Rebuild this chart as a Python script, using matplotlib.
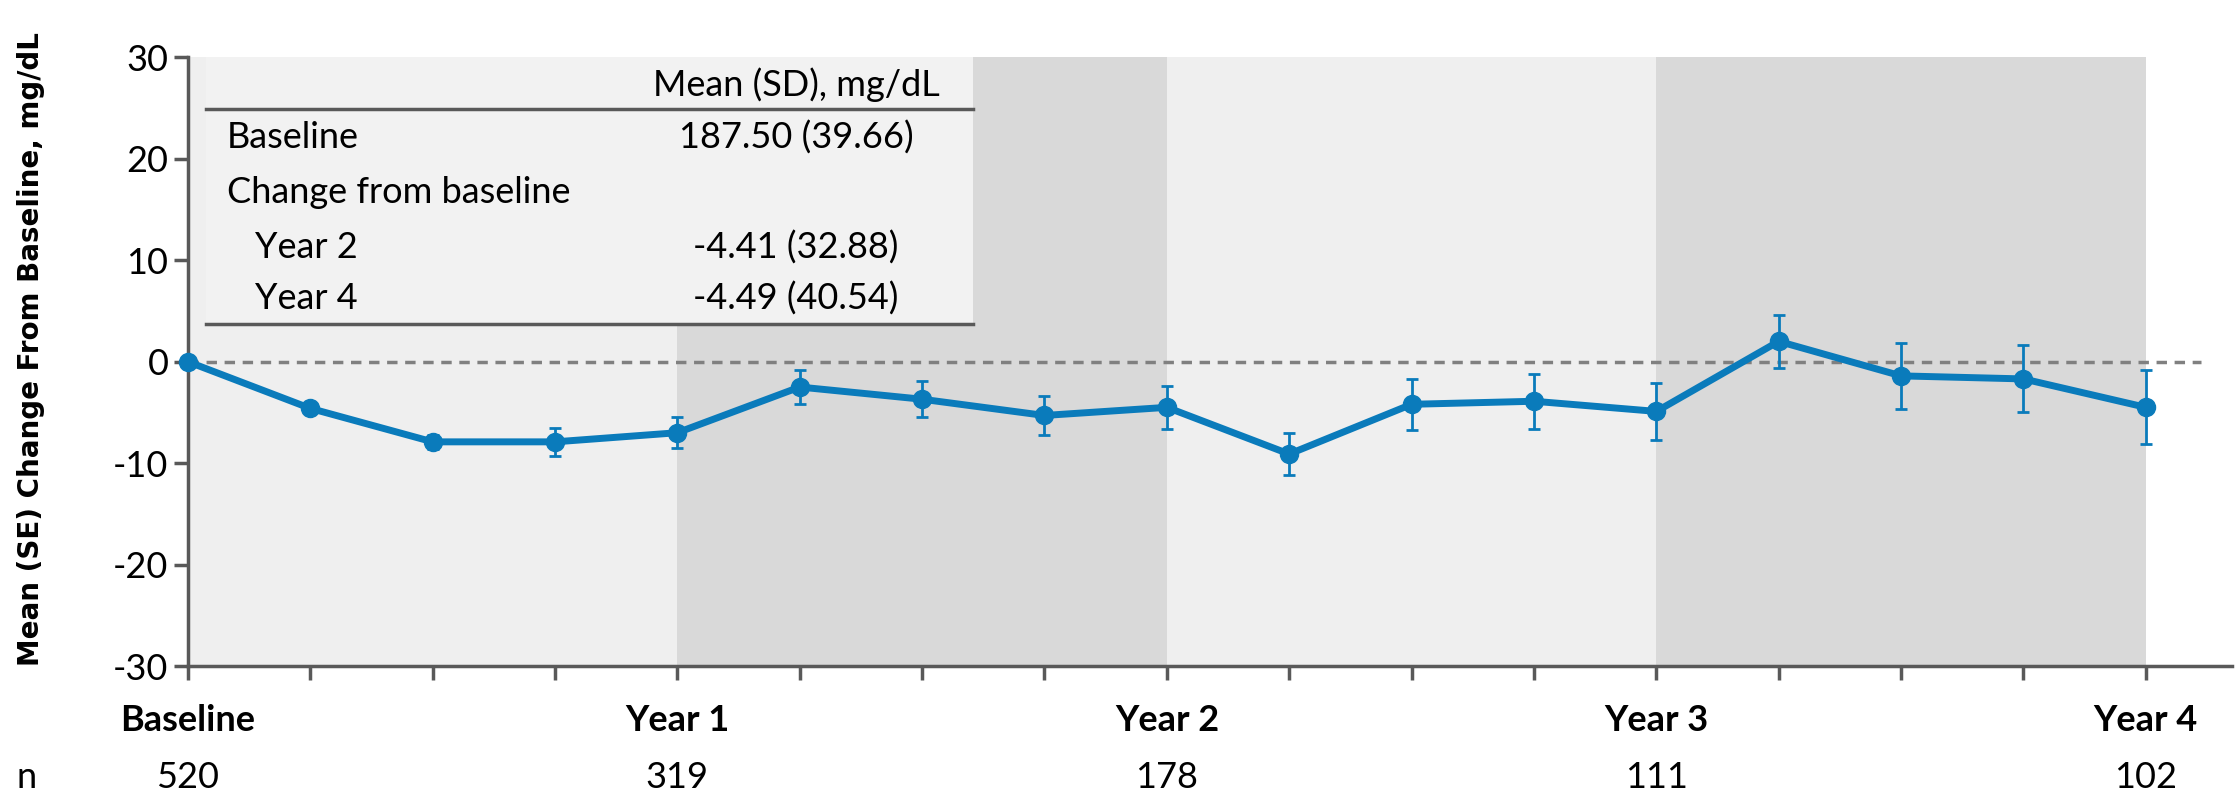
import numpy as np
import matplotlib
matplotlib.use("Agg")
import matplotlib.pyplot as plt
from matplotlib.font_manager import fontManager

# datos
visit_idx = list(range(17))
mean_change = [0.0, -4.6, -7.9, -7.9, -7.0, -2.5, -3.7, -5.3, -4.5,
               -9.1, -4.2, -3.9, -4.9, 2.0, -1.4, -1.7, -4.5]
se_change = [0.0, 0.5, 0.7, 1.4, 1.5, 1.7, 1.75, 1.9, 2.1,
             2.05, 2.5, 2.7, 2.8, 2.6, 3.25, 3.3, 3.65]

year_pos = [0, 4, 8, 12, 16]
year_labels = ["Baseline", "Year 1", "Year 2", "Year 3", "Year 4"]
n_values = ["520", "319", "178", "111", "102"]

table_header = "Mean (SD), mg/dL"
table_rows = ["Baseline", "Change from baseline", "Year 2", "Year 4"]
table_vals = ["187.50 (39.66)", "", "-4.41 (32.88)", "-4.49 (40.54)"]
table_indent = [False, False, True, True]

installed = {f.name for f in fontManager.ttflist}
narrow = next((f for f in ["Lato", "Open Sans"] if f in installed), "DejaVu Sans")
plt.rcParams['font.family'] = [narrow, 'DejaVu Sans']
plt.rcParams['axes.unicode_minus'] = False

fs = 26
blue = '#0a7bbb'
axis_gray = '#595959'

fig = plt.figure(figsize=(22.36, 7.94), dpi=100)
ax = fig.add_axes([0.084, 0.161, 0.914, 0.767])

# bandas de fondo por año
band_colors = ['#efefef', '#d9d9d9', '#efefef', '#d9d9d9']
for i, c in enumerate(band_colors):
    ax.axvspan(year_pos[i], year_pos[i + 1], color=c, zorder=0, lw=0)

ax.plot([0, 16.45], [0, 0], color='#808080', lw=2.5, ls=(0, (3, 2.2)), zorder=1)

# tabla dentro del gráfico
ax.add_patch(plt.Rectangle((0.15, 3.7), 6.27, 26.3, facecolor='#f2f2f2', edgecolor='none', zorder=1))
ax.plot([0.15, 6.42], [24.85, 24.85], color=axis_gray, lw=2.5, zorder=2)
ax.plot([0.15, 6.42], [3.7, 3.7], color=axis_gray, lw=2.5, zorder=2)
ax.text(4.97, 27.3, table_header, ha='center', va='center', fontsize=fs, zorder=3)
row_y = [22.1, 16.7, 11.2, 6.2]
for y, lab, val, ind in zip(row_y, table_rows, table_vals, table_indent):
    ax.text(0.55 if ind else 0.32, y, lab, ha='left', va='center', fontsize=fs, zorder=3)
    if val:
        ax.text(4.97, y, val, ha='center', va='center', fontsize=fs, zorder=3)

eb = ax.errorbar(visit_idx, mean_change, yerr=se_change, color=blue, lw=5, marker='o',
                 markersize=13, elinewidth=2, capsize=4, capthick=2, zorder=4)
for art in eb.lines[0:1] + tuple(eb.lines[1]) + tuple(eb.lines[2]):
    art.set_clip_on(False)

ax.set_xlim(0, 16.7)
ax.set_ylim(-30, 30)
ax.set_yticks([-30, -20, -10, 0, 10, 20, 30])
ax.set_xticks(visit_idx)
ax.set_xticklabels([])
ax.tick_params(axis='both', colors=axis_gray, width=2.5, length=10, labelsize=fs,
               labelcolor='black', direction='out')
ax.tick_params(axis='y', pad=4)
for s in ['top', 'right']:
    ax.spines[s].set_visible(False)
for s in ['left', 'bottom']:
    ax.spines[s].set_color(axis_gray)
    ax.spines[s].set_linewidth(2.5)

tr = ax.get_xaxis_transform()
for x, lab, n in zip(year_pos, year_labels, n_values):
    ax.text(x, -0.089, lab, transform=tr, ha='center', va='center', fontsize=fs,
            fontweight='bold', clip_on=False)
    ax.text(x, -0.182, n, transform=tr, ha='center', va='center', fontsize=fs, clip_on=False)
fig.text(0.0076, 0.021, "n", ha='left', va='center', fontsize=fs)

fig.text(0.014, 0.56, "Mean (SE) Change From Baseline, mg/dL", rotation=90,
         ha='center', va='center', fontsize=20, fontweight='bold', family='DejaVu Sans')

fig.savefig("out.png", dpi=100)
